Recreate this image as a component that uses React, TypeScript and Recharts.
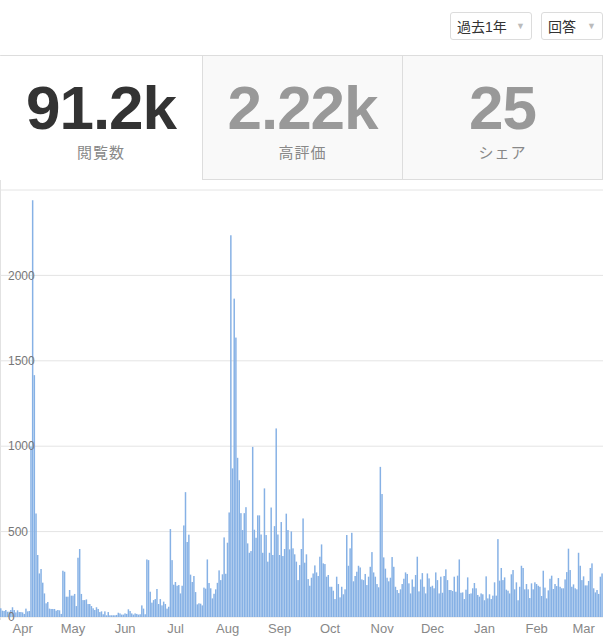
import React from "react";
import { BarChart, Bar, XAxis, YAxis, CartesianGrid } from "recharts";

// daily views, one value per day starting at startDate
const startDate = "2018-03-19";
const views = [
  51, 37, 35, 41, 31, 31, 41, 57, 41, 27, 39, 29, 29, 27, 18, 49, 33, 35,
  998, 2440, 1416, 606, 363, 255, 281, 201, 138, 80, 88, 49, 47, 47, 47, 37, 41, 39, 18,
  271, 265, 119, 119, 158, 125, 125, 135, 64, 347, 398, 135, 99, 99, 103, 76, 76, 64,
  51, 41, 57, 47, 29, 33, 16, 33, 10, 29, 10, 10, 10, 10, 12, 25, 21, 14, 14, 21, 18,
  45, 35, 21, 14, 21, 18, 14, 16, 68, 49, 16, 337, 333,
  148, 84, 99, 105, 164, 76, 105, 68, 90, 76, 49, 60, 515, 333, 189, 205, 183, 187,
  138, 183, 536, 731, 439, 482, 248, 205, 240, 146, 74, 80, 78, 68, 172, 166, 337, 199,
  168, 109, 136, 162,
  200, 273, 216, 250, 466, 253, 435, 612,
  2235, 870, 1864, 1636, 932, 801, 608, 509, 608, 643, 431, 376, 386, 996, 511, 464,
  595, 595, 483, 376, 753, 480, 324, 376, 641, 363, 532, 1104, 483, 363, 556, 357, 398,
  605, 509, 396, 501, 402, 367, 324, 216, 304, 398,
  577, 318, 367, 222, 183, 230, 255, 302, 261, 240, 353, 425, 314, 310, 236, 246, 177,
  177, 154, 105, 236, 193, 115, 177, 133, 162, 480, 300, 402, 493, 209, 240, 265, 300,
  290, 220, 216, 252, 187, 236, 294, 380, 261, 236, 193, 174,
  879, 720, 349, 283, 230, 209, 230, 351, 294, 177, 158, 140, 162, 193, 224, 261, 252,
  197, 138, 220, 177, 246, 353, 150, 220, 257, 177, 138, 255, 226, 177, 183, 168, 261,
  216, 138, 236, 142, 240, 279, 216, 158,
  158, 152, 236, 148, 242, 337, 142, 144, 105, 160, 232, 135, 138, 168, 199, 168, 129,
  119, 138, 133, 98, 238, 109, 133, 105, 125, 203, 125, 456, 213, 287, 216, 232, 160,
  154, 138, 250, 275, 162, 203, 98, 177, 300, 287, 162, 193, 162, 111, 197, 162, 203,
  193, 183, 177, 123, 271, 172, 109, 156, 224, 242, 164, 193, 181, 228, 177, 168, 168,
  220, 263, 400, 275, 177, 191, 168, 162, 376, 300, 216, 238, 185, 185, 211, 287, 314,
  168, 144, 158, 135, 236, 255,
];

const monthLabels = ["Jan", "Feb", "Mar", "Apr", "May", "Jun", "Jul", "Aug", "Sep", "Oct", "Nov", "Dec"];
const yTicks = [0, 500, 1000, 1500, 2000];

const statValues = ["91.2k", "2.22k", "25"];
const statLabels = ["閲覧数", "高評価", "シェア"];
const filterLabels = ["過去1年", "回答"];

const DAY = 86400000;
const chartData = views.map((v, i) => ({
  date: new Date(Date.parse(startDate) + i * DAY).toISOString().slice(0, 10),
  views: v,
}));
const monthTicks = chartData.filter((d) => d.date.endsWith("-01")).map((d) => d.date);
const formatMonth = (s: string) => monthLabels[Number(s.slice(5, 7)) - 1];

const CHART_W = 603;
const BAR_W = CHART_W / views.length - 0.2;

// recharts rounds tiny bars down to 1px, so draw them a bit wider
function DayBar(props: any) {
  const { x, y, height, fill } = props;
  if (!height || height <= 0) return null;
  return <rect x={x} y={y} width={BAR_W} height={height} fill={fill} />;
}

const font = '"Helvetica Neue", Helvetica, Arial, "Liberation Sans", "Noto Sans CJK JP", sans-serif';

export default function App() {
  const cellW = [202, 200, 201];
  let left = 0;
  return (
    <div style={{ position: "relative", width: 613, height: 639, fontFamily: font, background: "#fff" }}>
      <style>{"body{margin:0}"}</style>

      {/* filter dropdowns */}
      {filterLabels.map((label, i) => (
        <div
          key={label}
          style={{
            position: "absolute",
            top: 12,
            left: i === 0 ? 450 : 541,
            width: i === 0 ? 82 : 62,
            height: 28,
            border: "1px solid #dcdcdc",
            borderRadius: 3,
            display: "flex",
            alignItems: "center",
            paddingLeft: 6,
            boxSizing: "border-box",
            fontSize: 14,
            color: "#333",
          }}
        >
          <span>{label}</span>
          <span style={{ position: "absolute", right: 6, fontSize: 9, color: "#bbb", top: 8 }}>▼</span>
        </div>
      ))}

      {/* stats tabs */}
      <div style={{ position: "absolute", top: 55, left: 0, width: 603, height: 0, borderTop: "1px solid #ddd" }} />
      <div style={{ position: "absolute", top: 55, left: 0, width: 0, height: 565, borderLeft: "1px solid #e2e2e2" }} />
      {statValues.map((val, i) => {
        const x = left;
        left += cellW[i];
        return (
          <div
            key={val}
            style={{
              position: "absolute",
              top: 56,
              left: x,
              width: cellW[i],
              height: 124,
              background: i === 0 ? "#fff" : "#f9f9f9",
              borderLeft: i === 0 ? "none" : "1px solid #ddd",
              borderRight: i === 2 ? "1px solid #ddd" : "none",
              borderBottom: i === 0 ? "none" : "1px solid #ddd",
              boxSizing: "border-box",
              textAlign: "center",
            }}
          >
            <div
              style={{
                position: "absolute",
                top: 21,
                width: "100%",
                fontSize: 62,
                lineHeight: "62px",
                fontWeight: 700,
                letterSpacing: -1,
                color: i === 0 ? "#333" : "#999",
              }}
            >
              {val}
            </div>
            <div style={{ position: "absolute", top: 85, width: "100%", fontSize: 15, color: "#888", letterSpacing: 1 }}>
              {statLabels[i]}
            </div>
          </div>
        );
      })}

      {/* daily views */}
      <div style={{ position: "absolute", top: 180, left: 0 }}>
        <BarChart
          width={CHART_W}
          height={459}
          data={chartData}
          margin={{ top: 10, right: 0, bottom: 0, left: 0 }}
          barCategoryGap={0}
          barGap={0}
        >
          <CartesianGrid vertical={false} stroke="#e4e4e4" />
          <XAxis
            dataKey="date"
            ticks={monthTicks}
            interval={0}
            tickFormatter={formatMonth}
            axisLine={false}
            tickLine={false}
            height={22}
            tickSize={5}
            tick={{ fill: "#888", fontSize: 13, fontFamily: font }}
          />
          <YAxis
            domain={[0, 2500]}
            ticks={yTicks}
            mirror
            axisLine={false}
            tickLine={false}
            tick={{ fill: "#777", fontSize: 12, fontFamily: font }}
          />
          <Bar dataKey="views" fill="#86b1e5" shape={DayBar} isAnimationActive={false} />
        </BarChart>
      </div>
    </div>
  );
}
